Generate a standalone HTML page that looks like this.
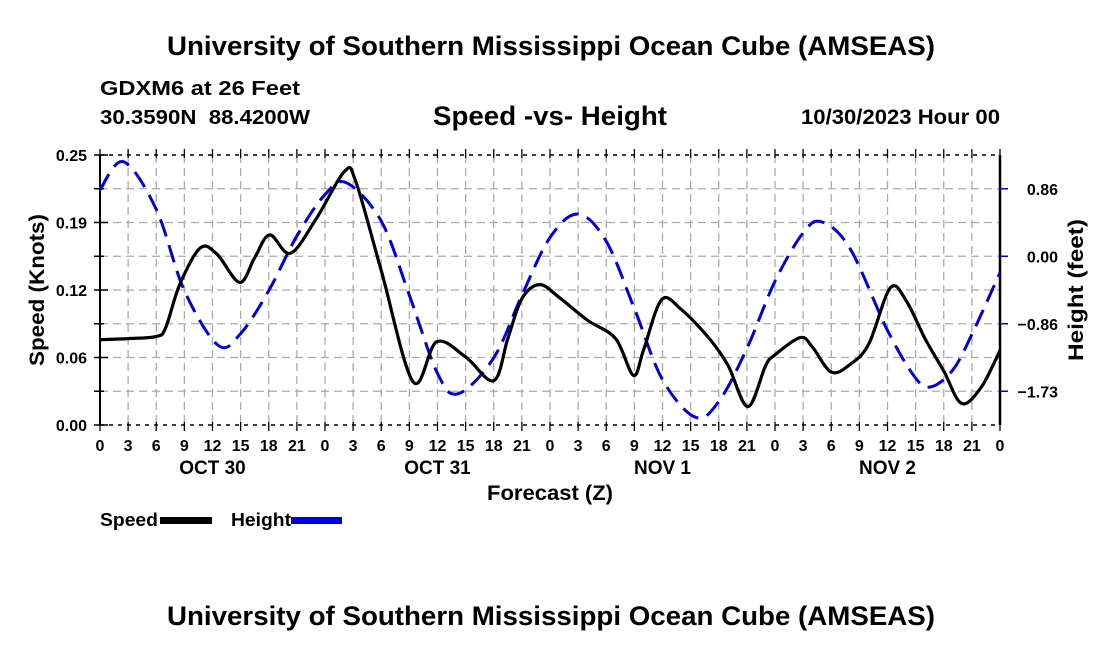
<!DOCTYPE html>
<html><head><meta charset="utf-8">
<style>
body{margin:0;background:#fff;}
svg{display:block;font-family:"Liberation Sans",Arial,sans-serif;font-weight:bold;}
</style></head>
<body>
<svg id="chart" width="1100" height="650" viewBox="0 0 1100 650">
<text x="167" y="55" font-size="27" textLength="768" lengthAdjust="spacingAndGlyphs">University of Southern Mississippi Ocean Cube (AMSEAS)</text>
<text x="100" y="95" font-size="20" textLength="200" lengthAdjust="spacingAndGlyphs">GDXM6 at 26 Feet</text>
<text x="100" y="124" font-size="20" textLength="210" lengthAdjust="spacingAndGlyphs" xml:space="preserve">30.3590N  88.4200W</text>
<text x="433" y="125" font-size="27" textLength="234" lengthAdjust="spacingAndGlyphs">Speed -vs- Height</text>
<text x="801" y="124" font-size="21" textLength="199" lengthAdjust="spacingAndGlyphs">10/30/2023 Hour 00</text>
<g id="grid"></g>
<g id="axes"></g>
<g id="series"></g>
<text x="487" y="500" font-size="21" textLength="126" lengthAdjust="spacingAndGlyphs">Forecast (Z)</text>
<text transform="translate(44,290) rotate(-90)" text-anchor="middle" font-size="21" textLength="152" lengthAdjust="spacingAndGlyphs">Speed (Knots)</text>
<text transform="translate(1083,290) rotate(-90)" text-anchor="middle" font-size="21" textLength="142" lengthAdjust="spacingAndGlyphs">Height (feet)</text>
<g>
<text x="100" y="526" font-size="18" textLength="58" lengthAdjust="spacingAndGlyphs">Speed</text>
<rect x="160" y="517" width="52" height="7" fill="#000"/>
<text x="231" y="526" font-size="18" textLength="60" lengthAdjust="spacingAndGlyphs">Height</text>
<rect x="291" y="517" width="51" height="7" fill="#0000dd"/>
</g>
<text x="167" y="625" font-size="27" textLength="768" lengthAdjust="spacingAndGlyphs">University of Southern Mississippi Ocean Cube (AMSEAS)</text>
</svg>
<script>
const speedHours=[0,3,6,7,8.5,10.7,12.5,14.9,16.5,18.1,20.3,23,26.1,27.3,30,33.4,35.9,39,42,43.5,45,46.9,49,52,55,56.9,58,59.9,62,65,67,69.1,71,72,74.7,76,78,80,82,84.3,86,88,90,91.9,94,96];
const speedValues=[0.079,0.080,0.082,0.090,0.130,0.164,0.158,0.132,0.155,0.176,0.159,0.190,0.235,0.225,0.143,0.040,0.077,0.063,0.041,0.080,0.117,0.130,0.118,0.097,0.080,0.046,0.070,0.116,0.107,0.080,0.055,0.017,0.055,0.065,0.081,0.072,0.049,0.056,0.075,0.127,0.115,0.080,0.050,0.020,0.035,0.069];
const heightHours=[0,2.5,6,9,12.6,15,18,21,24,26.3,30,33,36,38.2,42,45,48,51,54,57,60,63.5,66,69,72,75,77,80,84,87,88.7,91,93,96];
const heightValues=[0.85,1.21,0.60,-0.44,-1.14,-0.99,-0.44,0.26,0.79,0.94,0.45,-0.50,-1.50,-1.76,-1.30,-0.50,0.24,0.54,0.19,-0.67,-1.58,-2.06,-1.86,-1.18,-0.32,0.30,0.44,0.10,-0.95,-1.56,-1.67,-1.45,-1.00,-0.21];
const xTickLabels=["0","3","6","9","12","15","18","21"];
const dayLabels=["OCT 30","OCT 31","NOV 1","NOV 2"];
const speedTickLabels=["0.00","0.06","0.12","0.19","0.25"];
const heightTickLabels=["0.86","0.00","\u22120.86","\u22121.73"];
const heightTickValues=[0.864,0,-0.864,-1.728];

const L=100,R=1000,T=155,B=425;
const NS="http://www.w3.org/2000/svg";
const xs=h=>L+h/96*(R-L);
const ys=v=>B-v/0.25*(B-T);
const yh=v=>(T+3*33.75)-v/0.432*33.75;
function mk(tag,attrs,parent){const e=document.createElementNS(NS,tag);for(const k in attrs)e.setAttribute(k,attrs[k]);parent.appendChild(e);return e;}
const grid=document.getElementById('grid'),axes=document.getElementById('axes'),series=document.getElementById('series');
for(let h=3;h<96;h+=3){const l=mk('line',{x1:xs(h),x2:xs(h),y1:T,y2:B,stroke:'#aaa','stroke-width':1.3,'stroke-dasharray':'8,5'},grid);

}
for(let k=1;k<8;k++){const y=T+k*33.75;const l=mk('line',{x1:L,x2:R,y1:y,y2:y,stroke:'#aaa','stroke-width':1.3,'stroke-dasharray':'8,5'},grid);

}
mk('line',{x1:L,x2:R,y1:T,y2:T,stroke:'#000','stroke-width':1.5,'stroke-dasharray':'4,5'},axes);
mk('line',{x1:L,x2:R,y1:B,y2:B,stroke:'#000','stroke-width':1.5,'stroke-dasharray':'4,5'},axes);
mk('line',{x1:L,x2:L,y1:T,y2:B,stroke:'#000','stroke-width':2},axes);
mk('line',{x1:R,x2:R,y1:T,y2:B,stroke:'#000','stroke-width':2.5},axes);
for(let h=0;h<=96;h+=3){mk('line',{x1:xs(h),x2:xs(h),y1:B-3,y2:B+6,stroke:'#000','stroke-width':1.3},axes);
mk('line',{x1:xs(h),x2:xs(h),y1:T-6,y2:T+3,stroke:'#000','stroke-width':1.3},axes);
const t=mk('text',{x:xs(h),y:B+26,'text-anchor':'middle','font-size':16},axes);t.textContent=xTickLabels[(h/3)%8];

}
dayLabels.forEach((d,i)=>{const t=mk('text',{x:xs(12+24*i),y:474,'text-anchor':'middle','font-size':19},axes);t.textContent=d;

});
for(let k=0;k<=8;k++){const y=B-k*33.75;mk('line',{x1:L-6,x2:L+(k%2?4:8),y1:y,y2:y,stroke:'#000','stroke-width':1.5},axes);}
speedTickLabels.forEach((s,i)=>{const t=mk('text',{x:L-13,y:B-i*67.5+6,'text-anchor':'end','font-size':16},axes);t.textContent=s;

});
heightTickLabels.forEach((s,i)=>{const y=yh(heightTickValues[i]);mk('line',{x1:R,x2:R+8,y1:y,y2:y,stroke:'#0000dd','stroke-width':1.5},axes);
const t=mk('text',{x:1058,y:y+6,'text-anchor':'end','font-size':16},axes);t.textContent=s;

});
function spline(px,py){let d=`M${px[0]},${py[0]}`;const n=px.length;
for(let i=0;i<n-1;i++){const x0=px[Math.max(i-1,0)],y0=py[Math.max(i-1,0)],x1=px[i],y1=py[i],x2=px[i+1],y2=py[i+1],x3=px[Math.min(i+2,n-1)],y3=py[Math.min(i+2,n-1)];
d+=` C${x1+(x2-x0)/6},${y1+(y2-y0)/6} ${x2-(x3-x1)/6},${y2-(y3-y1)/6} ${x2},${y2}`;}return d;}
const hp=mk('path',{d:spline(heightHours.map(xs),heightValues.map(yh)),fill:'none',stroke:'#0000dd','stroke-width':3,'stroke-dasharray':'18,9'},series);


const sp=mk('path',{d:spline(speedHours.map(xs),speedValues.map(ys)),fill:'none',stroke:'#000','stroke-width':3.2},series);


</script>
</body></html>
